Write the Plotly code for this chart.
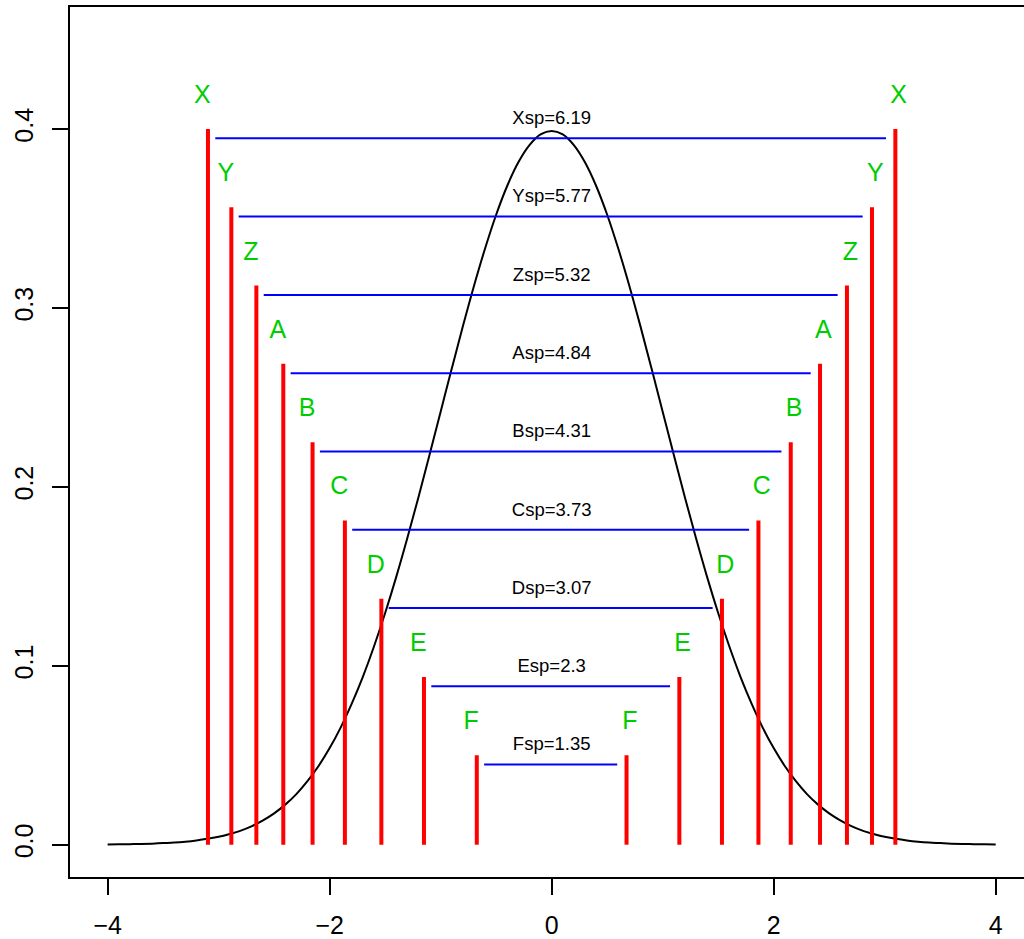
import plotly.graph_objects as go

# ---- data ----
letters = ["F", "E", "D", "C", "B", "A", "Z", "Y", "X"]
half_spread = [0.6745, 1.1503, 1.5341, 1.8627, 2.1538, 2.4175, 2.6601, 2.8856, 3.0962]
heights = [0.05, 0.09375, 0.1375, 0.18125, 0.225, 0.26875, 0.3125, 0.35625, 0.4]
spread_labels = ["Fsp=1.35", "Esp=2.3", "Dsp=3.07", "Csp=3.73", "Bsp=4.31",
                 "Asp=4.84", "Zsp=5.32", "Ysp=5.77", "Xsp=6.19"]

curve_x = [-4.0, -3.9, -3.8, -3.7, -3.6, -3.5, -3.4, -3.3, -3.2, -3.1,
           -3.0, -2.9, -2.8, -2.7, -2.6, -2.5, -2.4, -2.3, -2.2, -2.1,
           -2.0, -1.9, -1.8, -1.7, -1.6, -1.5, -1.4, -1.3, -1.2, -1.1,
           -1.0, -0.9, -0.8, -0.7, -0.6, -0.5, -0.4, -0.3, -0.2, -0.1,
           0.0, 0.1, 0.2, 0.3, 0.4, 0.5, 0.6, 0.7, 0.8, 0.9,
           1.0, 1.1, 1.2, 1.3, 1.4, 1.5, 1.6, 1.7, 1.8, 1.9,
           2.0, 2.1, 2.2, 2.3, 2.4, 2.5, 2.6, 2.7, 2.8, 2.9,
           3.0, 3.1, 3.2, 3.3, 3.4, 3.5, 3.6, 3.7, 3.8, 3.9, 4.0]
curve_y = [0.0001, 0.0002, 0.0003, 0.0004, 0.0006, 0.0009, 0.0012, 0.0017, 0.0024, 0.0033,
           0.0044, 0.0060, 0.0079, 0.0104, 0.0136, 0.0175, 0.0224, 0.0283, 0.0355, 0.0440,
           0.0540, 0.0656, 0.0790, 0.0940, 0.1109, 0.1295, 0.1497, 0.1714, 0.1942, 0.2179,
           0.2420, 0.2661, 0.2897, 0.3123, 0.3332, 0.3521, 0.3683, 0.3814, 0.3910, 0.3970,
           0.3989, 0.3970, 0.3910, 0.3814, 0.3683, 0.3521, 0.3332, 0.3123, 0.2897, 0.2661,
           0.2420, 0.2179, 0.1942, 0.1714, 0.1497, 0.1295, 0.1109, 0.0940, 0.0790, 0.0656,
           0.0540, 0.0440, 0.0355, 0.0283, 0.0224, 0.0175, 0.0136, 0.0104, 0.0079, 0.0060,
           0.0044, 0.0033, 0.0024, 0.0017, 0.0012, 0.0009, 0.0006, 0.0004, 0.0003, 0.0002, 0.0001]

x_ticks = [-4, -2, 0, 2, 4]
y_ticks = [0.0, 0.1, 0.2, 0.3, 0.4]

FONT = "Liberation Sans, Arial, Helvetica, sans-serif"
GREEN = "#00CD00"

fig = go.Figure()

# density curve
fig.add_trace(go.Scatter(x=curve_x, y=curve_y, mode="lines",
                         line=dict(color="black", width=2, shape="spline", smoothing=1.0),
                         hoverinfo="skip"))

# red vertical segments
rx, ry = [], []
for h, v in zip(half_spread, heights):
    for s in (-h, h):
        rx += [s, s, None]
        ry += [0, v, None]
fig.add_trace(go.Scatter(x=rx, y=ry, mode="lines",
                         line=dict(color="#FF0000", width=4), hoverinfo="skip"))

# blue horizontal segments
bx, by = [], []
for h, v in zip(half_spread, heights):
    bx += [-h + 0.066, h - 0.084, None]
    by += [v - 0.0052, v - 0.0052, None]
fig.add_trace(go.Scatter(x=bx, y=by, mode="lines",
                         line=dict(color="#0000FF", width=2), hoverinfo="skip"))

# green letter labels
gx, gy, gt = [], [], []
for L, h, v in zip(letters, half_spread, heights):
    gx += [-h - 0.05, h + 0.03]
    gy += [v + 0.018, v + 0.018]
    gt += [L, L]
fig.add_trace(go.Scatter(x=gx, y=gy, mode="text", text=gt,
                         textfont=dict(family=FONT, size=25, color=GREEN),
                         textposition="middle center", hoverinfo="skip"))

# spread labels
fig.add_trace(go.Scatter(x=[0] * len(spread_labels), y=[v + 0.0053 for v in heights],
                         mode="text", text=spread_labels,
                         textfont=dict(family=FONT, size=18.5, color="black"),
                         textposition="middle center", hoverinfo="skip"))

fig.update_layout(
    width=1024, height=939,
    margin=dict(l=70, r=0, t=7, b=62, autoexpand=False),
    paper_bgcolor="white", plot_bgcolor="white",
    showlegend=False,
    font=dict(family=FONT, size=25, color="black"),
)
fig.update_xaxes(range=[-4.339, 4.255], tickvals=x_ticks,
                 ticktext=["\u2212" + str(abs(t)) if t < 0 else str(t) for t in x_ticks],
                 showgrid=False, zeroline=False, automargin=False,
                 showline=True, mirror=True, linecolor="black", linewidth=2,
                 ticks="outside", ticklen=16, tickwidth=2, tickcolor="black",
                 ticklabelstandoff=9)
fig.update_yaxes(range=[-0.01805, 0.4682], tickvals=y_ticks,
                 ticktext=["%.1f" % t for t in y_ticks], tickangle=-90,
                 showgrid=False, zeroline=False, automargin=False,
                 showline=True, mirror=False, linecolor="black", linewidth=2,
                 ticks="outside", ticklen=16, tickwidth=2, tickcolor="black",
                 ticklabelstandoff=9)

fig.write_html("out.html", config={"displayModeBar": False},
               post_script="document.body.style.margin='0';document.body.style.overflow='hidden';")
